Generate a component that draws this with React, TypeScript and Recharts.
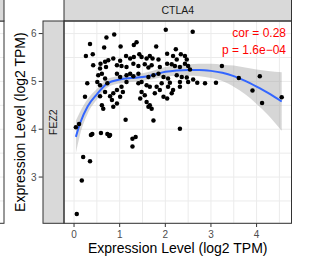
import React from 'react';
import { ComposedChart, Scatter, Line, Area, XAxis, YAxis, CartesianGrid } from 'recharts';

// CTLA4 expression (x) vs FEZ2 expression (y), log2 TPM
const ctla4Values = [
  // sparse points
  0.88, 0.71, 1.13, 0.04, 0.11, 0.37, 0.40, 0.59, 0.73, 0.79, 0.77, 1.28, 1.35, 1.28,
  0.20, 0.35, 0.17, 0.06, 2.01, 2.60, 3.11, 1.74, 2.32, 3.24, 3.61, 4.07, 3.91, 4.12, 4.55,
  // dense cloud
  0.35, 0.66, 1.02, 1.31, 1.37, 1.80, 2.23,
  0.26, 0.41, 0.58, 0.68, 0.75, 0.86, 1.01, 1.14, 1.23, 1.31, 1.43, 1.48, 1.59, 1.66, 1.72,
  1.85, 2.04, 2.17, 2.25, 2.34, 2.43, 2.47,
  0.42, 0.57, 0.70, 0.94, 1.04, 1.15, 1.30, 1.41, 1.55, 1.63, 1.70, 1.88, 2.04, 2.14, 2.21,
  2.32, 2.43, 2.50, 2.54,
  0.53, 0.61, 0.68, 0.94, 1.01, 1.15, 1.23, 1.30, 1.41, 1.63, 1.74, 1.85, 1.96, 2.06, 2.25,
  2.36, 2.47, 2.61, 2.70, 2.87,
  0.29, 0.51, 0.57, 0.73, 0.94, 1.04, 1.07, 1.15, 1.41, 1.48, 1.59, 1.66, 1.81, 1.92, 2.06,
  2.10, 2.32, 2.32, 2.50,
  0.24, 0.57, 0.68, 0.79, 0.86, 0.83, 1.01, 1.45, 1.48, 1.55, 1.77, 1.88, 1.96, 2.04, 2.14, 2.17,
  0.61, 0.64, 0.86, 0.94, 1.59, 1.66, 1.70, 1.63,
];
const fez2Values = [
  5.98, 5.92, 4.20, 4.04, 4.11, 3.88, 3.90, 3.92, 3.90, 3.88, 3.86, 3.80, 3.84, 3.64,
  3.42, 3.33, 2.93, 2.23, 6.08, 6.04, 4.97, 4.18, 4.01, 5.32, 5.07, 5.11, 4.81, 4.55, 4.67,
  5.78, 5.71, 5.73, 5.76, 5.82, 5.73, 5.67,
  5.53, 5.57, 5.37, 5.41, 5.44, 5.48, 5.43, 5.53, 5.48, 5.51, 5.57, 5.51, 5.48, 5.53, 5.48,
  5.46, 5.58, 5.53, 5.46, 5.57, 5.53, 5.46,
  5.34, 5.27, 5.30, 5.34, 5.32, 5.30, 5.37, 5.32, 5.36, 5.29, 5.34, 5.30, 5.37, 5.36, 5.32,
  5.30, 5.37, 5.32, 5.25,
  5.13, 5.16, 5.06, 5.16, 5.09, 5.13, 5.16, 5.11, 5.16, 5.09, 5.13, 5.16, 5.09, 5.06, 5.13,
  5.09, 5.08, 5.04, 4.97, 4.96,
  4.96, 4.99, 4.92, 4.96, 4.82, 4.89, 4.78, 4.99, 4.96, 4.99, 4.92, 4.89, 4.89, 4.96, 4.89,
  4.97, 4.99, 4.89, 4.99,
  4.68, 4.69, 4.78, 4.69, 4.75, 4.61, 4.68, 4.64, 4.78, 4.71, 4.75, 4.82, 4.68, 4.64, 4.75, 4.82,
  4.50, 4.43, 4.47, 4.54, 4.57, 4.50, 4.43, 4.47,
];

// loess fit and its confidence band
const fitX = [0.04, 0.13, 0.3, 0.5, 0.73, 1.0, 1.25, 1.5, 1.75, 2.0, 2.25, 2.5, 2.75, 3.0, 3.25, 3.5, 3.75, 4.0, 4.25, 4.55];
const fitY = [3.84, 4.12, 4.48, 4.73, 4.96, 5.04, 5.07, 5.09, 5.14, 5.20, 5.23, 5.24, 5.24, 5.22, 5.18, 5.11, 5.01, 4.89, 4.76, 4.58];
const fitLow = [3.50, 3.88, 4.33, 4.62, 4.87, 4.96, 4.99, 5.01, 5.05, 5.10, 5.12, 5.12, 5.11, 5.07, 5.01, 4.89, 4.73, 4.53, 4.30, 3.97];
const fitHigh = [4.18, 4.36, 4.63, 4.84, 5.05, 5.12, 5.15, 5.17, 5.23, 5.30, 5.34, 5.36, 5.37, 5.37, 5.35, 5.33, 5.29, 5.25, 5.22, 5.19];

const xTicks = [0, 0.5, 1, 1.5, 2, 2.5, 3, 3.5, 4, 4.5];
const yTicks = [2.5, 3, 3.5, 4, 4.5, 5, 5.5, 6];
const xDomain: [number, number] = [-0.22, 4.765];
const yDomain: [number, number] = [2.033, 6.263];

const colLabel = 'CTLA4';
const rowLabel = 'FEZ2';
const corText = 'cor = 0.28';
const pText = 'p = 1.6e\u221204';
const axisTitle = 'Expression Level (log2 TPM)';

const points = ctla4Values.map((x, i) => ({ x, y: fez2Values[i] }));
const fit = fitX.map((x, i) => ({ x, y: fitY[i], band: [fitLow[i], fitHigh[i]] }));

const W = 309;
const H = 267;
const P = { left: 64, top: 21, right: 291.5, bottom: 223.3 };
const FONT = '"Liberation Sans", Arial, Helvetica, sans-serif';

const yPx = (v: number) => P.top + ((yDomain[1] - v) / (yDomain[1] - yDomain[0])) * (P.bottom - P.top);

const YTick = (props: any) => {
  const { y, payload } = props;
  const v = Number(payload.value);
  if (Math.abs(v - Math.round(v)) > 1e-9) return <g />;
  return (
    <g>
      <line x1={38.7} x2={42.7} y1={y} y2={y} stroke="#333" strokeWidth={1} />
      <text x={36.5} y={y} dy={3.6} textAnchor="end" fontSize={10} fill="#4d4d4d" fontFamily={FONT}>
        {String(v)}
      </text>
    </g>
  );
};

const XTick = (props: any) => {
  const { x, payload } = props;
  const v = Number(payload.value);
  if (Math.abs(v - Math.round(v)) > 1e-9) return <g />;
  return (
    <g>
      <line x1={x} x2={x} y1={P.bottom} y2={P.bottom + 3.7} stroke="#333" strokeWidth={1} />
      <text x={x} y={P.bottom + 14.2} textAnchor="middle" fontSize={10} fill="#4d4d4d" fontFamily={FONT}>
        {String(v)}
      </text>
    </g>
  );
};

const Dot = (props: any) => <circle cx={props.cx} cy={props.cy} r={2.25} fill="#000" />;

export default function App() {
  const pw = P.right - P.left;
  const ph = P.bottom - P.top;
  return (
    <div style={{ position: 'absolute', left: 0, top: 0, width: W, height: H, background: '#fff' }}>
      <ComposedChart
        width={W}
        height={H}
        data={fit}
        margin={{ top: P.top, right: W - P.right, bottom: 0, left: 0 }}
      >
        <CartesianGrid stroke="#ebebeb" strokeWidth={1} />
        <XAxis
          type="number"
          dataKey="x"
          domain={xDomain}
          allowDataOverflow
          ticks={xTicks}
          interval={0}
          height={H - P.bottom}
          axisLine={false}
          tickLine={false}
          tick={XTick}
        />
        <YAxis
          type="number"
          dataKey="y"
          domain={yDomain}
          allowDataOverflow
          ticks={yTicks}
          interval={0}
          width={P.left}
          axisLine={false}
          tickLine={false}
          tick={YTick}
        />
        <Scatter data={points} shape={Dot} isAnimationActive={false} />
        <Area
          dataKey="band"
          type="monotone"
          stroke="none"
          fill="#999999"
          fillOpacity={0.4}
          isAnimationActive={false}
          activeDot={false}
        />
        <Line
          dataKey="y"
          type="monotone"
          stroke="#3366ff"
          strokeWidth={2}
          dot={false}
          activeDot={false}
          isAnimationActive={false}
        />
      </ComposedChart>
      <svg
        width={W}
        height={H}
        style={{ position: 'absolute', left: 0, top: 0, pointerEvents: 'none' }}
        fontFamily={FONT}
      >
        {/* partial neighbouring panel on the left */}
        {yTicks.map((v) => (
          <line key={v} x1={-1} x2={4} y1={yPx(v)} y2={yPx(v)} stroke="#ebebeb" />
        ))}
        <rect x={-2} y={P.top} width={6} height={ph} fill="none" stroke="#333" />
        <rect x={-2} y={-2} width={6} height={P.top + 2} fill="#d9d9d9" stroke="#333" />

        {/* strips */}
        <rect x={P.left} y={-2} width={pw} height={P.top + 2} fill="#d9d9d9" stroke="#333" />
        <text x={P.left + pw / 2} y={14} textAnchor="middle" fontSize={10.5} fill="#1a1a1a">
          {colLabel}
        </text>
        <rect x={43} y={P.top} width={P.left - 43} height={ph} fill="#d9d9d9" stroke="#333" />
        <text
          transform={`translate(57.2,${P.top + ph / 2}) rotate(-90)`}
          textAnchor="middle"
          fontSize={10.5}
          fill="#1a1a1a"
        >
          {rowLabel}
        </text>

        {/* panel border */}
        <rect x={P.left} y={P.top} width={pw} height={ph} fill="none" stroke="#333" />

        {/* annotation */}
        <text x={286} y={36.7} textAnchor="end" fontSize={12} fill="#ff0000">
          {corText}
        </text>
        <text x={286} y={54} textAnchor="end" fontSize={12} fill="#ff0000">
          {pText}
        </text>

        {/* axis titles */}
        <text x={(P.left + P.right) / 2} y={253.3} textAnchor="middle" fontSize={14} fill="#000">
          {axisTitle}
        </text>
        <text
          transform={`translate(25,${P.top + ph / 2}) rotate(-90)`}
          textAnchor="middle"
          fontSize={14}
          fill="#000"
        >
          {axisTitle}
        </text>
      </svg>
    </div>
  );
}
